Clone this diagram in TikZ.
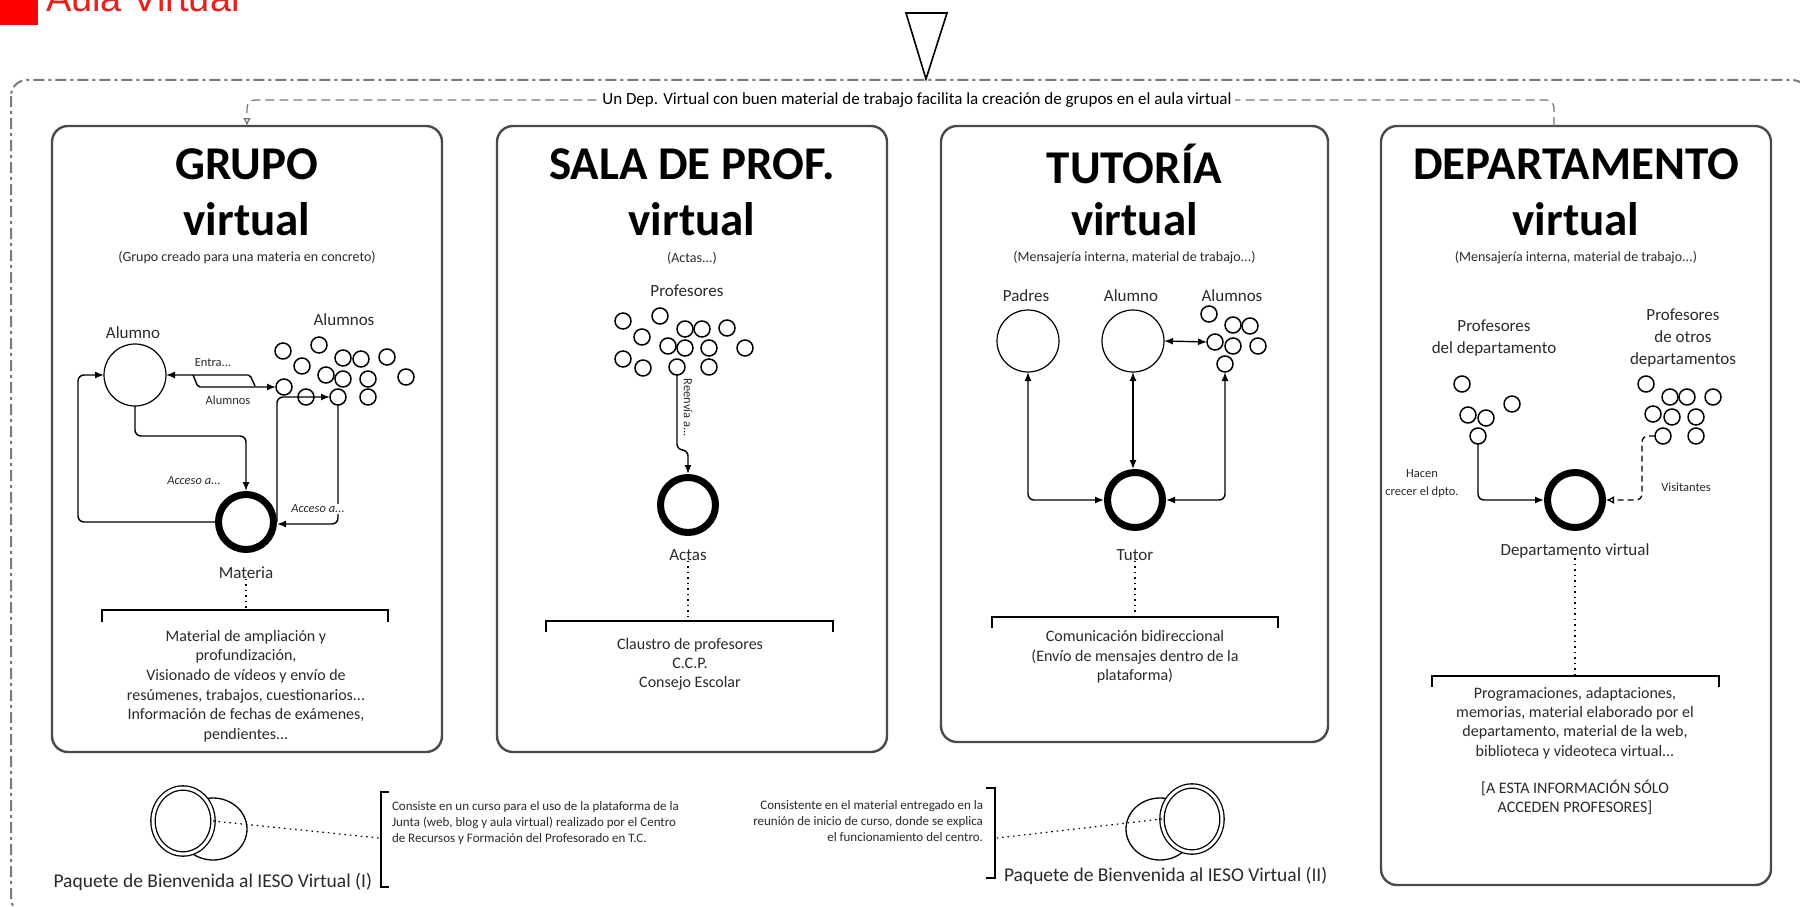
\documentclass[tikz,border=0pt]{standalone}
\usepackage{fontspec}
\setmainfont{Carlito}
\newfontfamily\headfont{Liberation Sans}
\usetikzlibrary{arrows.meta,calc,shapes.geometric}
\definecolor{aulared}{HTML}{E8201C}
\definecolor{pgray}{HTML}{4A4A4A}
\definecolor{fgray}{HTML}{7A7A7A}
\definecolor{txt}{HTML}{2A2A2A}
\tikzset{
  every node/.style={inner sep=0pt, outer sep=0pt, text=txt},
  panel/.style={draw=pgray, line width=2.4pt, rounded corners=16pt},
  ttl/.style={font=\fontsize{47}{52}\selectfont\bfseries, text=black},
  subt/.style={font=\fontsize{14}{16}\selectfont},
  lbl/.style={font=\fontsize{17}{22}\selectfont, align=center},
  small/.style={font=\fontsize{12.5}{18}\selectfont, align=center},
  body/.style={font=\fontsize{16}{19.6}\selectfont, align=center},
  note/.style={font=\fontsize{13}{16}\selectfont},
  pkg/.style={font=\fontsize{19.5}{22}\selectfont},
  person/.style={circle, draw, line width=1.2pt, minimum size=62pt},
  dot/.style={circle, draw, line width=1.5pt, minimum size=16pt},
  hub/.style={circle, draw, line width=7pt, minimum size=55pt, outer sep=3.5pt},
  arr/.style={-{Latex[length=9pt,width=7pt]}, line width=1.4pt, rounded corners=6pt},
  darr/.style={{Latex[length=9pt,width=7pt]}-{Latex[length=9pt,width=7pt]}, line width=1.4pt, rounded corners=6pt},
  dotl/.style={line width=1.4pt, dash pattern=on 1.5pt off 4pt},
  brk/.style={line width=1.6pt},
  ring/.style={ellipse, draw, double, double distance=3pt, line width=1.3pt, fill=white, minimum width=60pt, minimum height=66pt},
  backell/.style={ellipse, draw, line width=1.3pt, minimum width=68pt, minimum height=62pt},
}
\begin{document}
\begin{tikzpicture}[x=1pt,y=-1pt]
\useasboundingbox (0,0) rectangle (1800,907);
\clip (0,0) rectangle (1800,907);
\fill[white] (0,0) rectangle (1800,907);

% header
\fill[red] (0,0) rectangle (38,25);
\node[anchor=base west, font=\fontsize{38}{40}\selectfont\headfont, text=aulared] (hdr) at (46,12) {Aula Virtual};

% outer frame
\draw[fgray, line width=2pt, dash pattern=on 11pt off 4pt on 3pt off 4pt, rounded corners=16pt] (11,80) rectangle (1808,914);
% triangle
\draw[line width=1.6pt, fill=white, line join=miter] (906,13) -- (947,13) -- (926,79) -- cycle;

% panels
\node[panel, minimum width=390pt, minimum height=626pt] (pg) at (247,439) {};
\node[panel, minimum width=390pt, minimum height=626pt] (ps) at (692,439) {};
\node[panel, minimum width=387pt, minimum height=616pt] (pt) at (1134.5,434) {};
\node[panel, minimum width=390pt, minimum height=759pt] (pd) at (1576,505.5) {};

% top connector
\coordinate (dtop) at ($(pd.north)+(-22,0)$);
\draw[fgray, line width=1.3pt, dash pattern=on 9pt off 5pt, rounded corners=8pt, -{Latex[open,length=8pt,width=8pt]}] (dtop) -- ++(0,-26) -| (pg.north);
\node[font=\fontsize{17}{19}\selectfont, fill=white, inner xsep=3pt, inner ysep=2pt, text=black] (conn) at (917,100) {Un Dep. Virtual con buen material de trabajo facilita la creación de grupos en el aula virtual};

% titles
\node[ttl] (tg1) at (247,164) {GRUPO};
\node[ttl] (tg2) at (247,219) {virtual};
\node[subt] (tg3) at (247,258) {(Grupo creado para una materia en concreto)};
\node[ttl] (ts1) at (692,164) {SALA DE PROF.};
\node[ttl] (ts2) at (692,219) {virtual};
\node[subt] (ts3) at (692,258) {(Actas...)};
\node[ttl] (tt1) at (1134.5,164) {TUTORÍA};
\node[ttl] (tt2) at (1134.5,219) {virtual};
\node[subt] (tt3) at (1134.5,258) {(Mensajería interna, material de trabajo...)};
\node[ttl] (td1) at (1576,164) {DEPARTAMENTO};
\node[ttl] (td2) at (1576,219) {virtual};
\node[subt] (td3) at (1576,258) {(Mensajería interna, material de trabajo...)};

% ---------- GRUPO ----------
\node[lbl] (lal) at (133,333) {Alumno};
\node[person] (al) at (135,375) {};
\node[lbl] (lals) at (344,320) {Alumnos};
\foreach \n/\x/\y in {1/283/351,2/319/345,3/302/366,4/343/358,5/361/359,6/387/357,7/326/375,8/343/379,9/368/379,10/406/377,11/284/387,12/306/397,13/338/397,14/368/397}
  \node[dot] (g\n) at (\x,\y) {};
\node[hub] (mat) at (246,522) {};
\node[lbl] (lmat) at (246,573) {Materia};
\coordinate (ea) at (255,386);
\coordinate (eb) at (193,375);
\draw[arr, rounded corners=2pt] (ea) -- ++(-5,-11) -- (al.east);
\draw[arr, rounded corners=2pt] (eb) -- ++(5,12) -- (g11.west);
\node[small] (lentra) at (213,363) {Entra...};
\node[small] (lalu) at (228,400) {Alumnos};
\draw[arr] (al.south) |- ($(mat.north)+(0,-55)$) -- (mat.north);
\node[small, font=\itshape\fontsize{12.5}{14}\selectfont] (lacc1) at (194,481) {Acceso a...};
\draw[arr] (mat.west) -- ++(-137,0) |- (al.west);
\draw[arr] (mat.east) |- (g13.west);
\draw[arr] (g13.south) |- ($(mat.east)+(0,2)$);
\node[small, fill=white, inner sep=1pt, font=\itshape\fontsize{12.5}{14}\selectfont] (lacc2) at (318,509) {Acceso a...};
\coordinate (bg) at (246,610);
\draw[dotl] (lmat.south) -- (bg);
\draw[brk] (102,622) -- (102,610) -- (388,610) -- (388,622);
\node[body] (txg) at (246,686) {Material de ampliación y\\profundización,\\Visionado de vídeos y envío de\\resúmenes, trabajos, cuestionarios...\\Información de fechas de exámenes,\\pendientes...};

% ---------- SALA ----------
\node[lbl] (lprof) at (687,291) {Profesores};
\foreach \n/\x/\y in {1/623/321,2/660/316,3/685/329,4/702/329,5/727/328,6/642/337,7/668/346,8/685/348,9/709/348,10/745/348,11/623/359,12/643/368,13/677/367,14/709/367}
  \node[dot] (s\n) at (\x,\y) {};
\node[hub] (act) at (688,505) {};
\node[lbl] (lact) at (688,555) {Actas};
\draw[arr] (s13.south) |- ($(act.north)+(0,-24)$) -- (act.north);
\node[small, rotate=-90] (lrem) at (688,408) {Reenvía a...};
\coordinate (bs) at (688,621);
\draw[dotl] (lact.south) -- (bs);
\draw[brk] (546,632) -- (546,621) -- (833,621) -- (833,632);
\node[body, font=\fontsize{16}{19}\selectfont] (txs) at (690,664) {Claustro de profesores\\C.C.P.\\Consejo Escolar};

% ---------- TUTORIA ----------
\node[lbl] (lpad) at (1026,296) {Padres};
\node[lbl] (lalu2) at (1131,296) {Alumno};
\node[lbl] (lalus2) at (1232,296) {Alumnos};
\node[person] (pad) at (1028,341) {};
\node[person] (alu) at (1133,341) {};
\foreach \n/\x/\y in {1/1209/314,2/1233/325,3/1250/326,4/1215/342,5/1233/346,6/1258/346,7/1225/364}
  \node[dot] (t\n) at (\x,\y) {};
\node[hub] (tut) at (1135,500) {};
\node[lbl] (ltut) at (1135,555) {Tutor};
\draw[darr] (alu.east) -- (t4.west);
\draw[darr] (pad.south) |- (tut.west);
\draw[darr] (alu.south) -- (alu.south |- tut.north);
\draw[darr] (t7.south) |- (tut.east);
\coordinate (bt) at (1135,617);
\draw[dotl] (ltut.south) -- (bt);
\draw[brk] (992,628) -- (992,617) -- (1278,617) -- (1278,628);
\node[body] (txt) at (1135,657) {Comunicación bidireccional\\(Envío de mensajes dentro de la\\plataforma)};

% ---------- DEPARTAMENTO ----------
\node[lbl] (lpd) at (1494,338) {Profesores\\del departamento};
\node[lbl] (lpo) at (1683,338) {Profesores\\de otros\\departamentos};
\foreach \n/\x/\y in {1/1462/384,2/1512/404,3/1468/415,4/1486/418,5/1478/436}
  \node[dot] (d\n) at (\x,\y) {};
\foreach \n/\x/\y in {1/1646/384,2/1670/397,3/1687/397,4/1713/397,5/1653/414,6/1672/417,7/1696/417,8/1663/436,9/1696/436}
  \node[dot] (e\n) at (\x,\y) {};
\node[hub] (dep) at (1575,500) {};
\node[lbl] (ldep) at (1575,551) {Departamento virtual};
\draw[arr] (d5.south) |- (dep.west);
\node[small] (lhac) at (1422,483) {Hacen\\crecer el dpto.};
\draw[line width=1.3pt, dash pattern=on 6pt off 4pt, rounded corners=6pt, -{Latex[open,length=8pt,width=8pt]}] (e8.west) -| ($(dep.east)+(36,0)$) -- (dep.east);
\node[small] (lvis) at (1686,487) {Visitantes};
\coordinate (bd) at (1575,676);
\draw[dotl] (ldep.south) -- (bd);
\draw[brk] (1432,687) -- (1432,676) -- (1719,676) -- (1719,687);
\node[body, font=\fontsize{16}{19.3}\selectfont] (txd) at (1575,723) {Programaciones, adaptaciones,\\memorias, material elaborado por el\\departamento, material de la web,\\biblioteca y videoteca virtual...};
\node[body, font=\fontsize{16}{19}\selectfont] (txd2) at (1575,797) {[A ESTA INFORMACIÓN SÓLO\\ACCEDEN PROFESORES]};

% ---------- bottom packages ----------
\node[backell] (b1) at (213,829) {};
\node[ring] (r1) at (183,821) {};
\node[pkg, anchor=east] (p1) at (372,882) {Paquete de Bienvenida al IESO Virtual (I)};
\draw[brk] (389,792) -- (381,792) -- (381,887) -- (389,887);
\coordinate (k1) at (379,838);
\draw[dotl, line width=1.2pt] (r1.east) -- (k1);
\node[note, anchor=west, align=left] (n1) at (392,823) {Consiste en un curso para el uso de la plataforma de la\\Junta (web, blog y aula virtual) realizado por el Centro\\de Recursos y Formación del Profesorado en T.C.};

\node[backell] (b2) at (1160,829) {};
\node[ring] (r2) at (1192,819) {};
\node[pkg, anchor=west] (p2) at (1004,876) {Paquete de Bienvenida al IESO Virtual (II)};
\draw[brk] (986,788) -- (995,788) -- (995,878) -- (986,878);
\coordinate (k2) at (997,838);
\draw[dotl, line width=1.2pt] (r2.west) -- (k2);
\node[note, anchor=east, align=right] (n2) at (983,821) {Consistente en el material entregado en la\\reunión de inicio de curso, donde se explica\\el funcionamiento del centro.};
\end{tikzpicture}
\end{document}
